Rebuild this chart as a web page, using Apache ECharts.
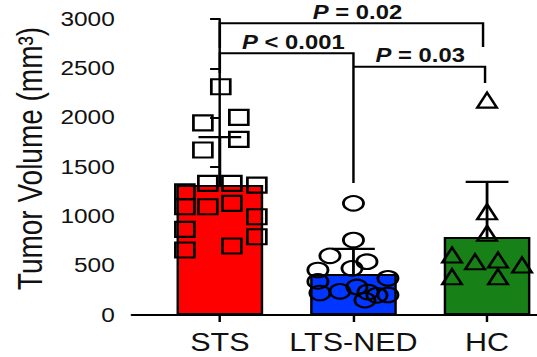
<!DOCTYPE html>
<html><head><meta charset="utf-8">
<script src="https://cdn.jsdelivr.net/npm/echarts@6/dist/echarts.min.js"></script>
<style>
html,body{margin:0;padding:0;background:#fff;overflow:hidden;width:537px;height:357px;}
#wrap{width:537px;height:357px;overflow:hidden;}
#chart{width:440px;height:357px;transform:scaleX(1.2205);transform-origin:0 0;}
</style></head><body><div id="wrap"><div id="chart"></div></div>
<script>
// ---- data ----
const categories = ['STS', 'LTS-NED', 'HC'];
const barColors = ['#FF0000', '#0036FF', '#178017'];
const barMeans = [1317, 415, 790];
const barSD = [485, 255, 560];
const stsValues = [2313, 1948, 2003, 1780, 1672, 1334, 1334, 1317, 1249, 1097, 1097, 1132, 996, 868, 793, 659, 699];
const stsJitter = [0.007, -0.127, 0.142, 0.142, -0.127, -0.09, 0.09, 0.277, -0.262, -0.262, -0.09, 0.09, 0.277, -0.262, 0.277, -0.262, 0.09];
const ltsValues = [1132, 760, 600, 540, 456, 473, 372, 340, 240, 284, 233, 203, 150, 223, 200];
const ltsJitter = [0, 0, -0.176, 0.101, -0.266, -0.011, 0.258, -0.266, -0.101, 0.026, 0.109, 0.258, 0.086, -0.251, 0.176];
const hcValues = [2178, 1047, 828, 608, 540, 557, 507, 388, 388];
const hcJitter = [0, 0, 0, -0.262, -0.09, 0.082, 0.262, -0.262, 0.082];
const yMin = 0, yMax = 3000, yStep = 500;
const yTitle = 'Tumor Volume (mm\u00B3)';
// significance annotations: groups compared, bracket height and leg ends (data units)
const pTexts = ['{i|P} = 0.02', '{i|P} < 0.001', '{i|P} = 0.03'];
const pFrom = [0, 0, 1];
const pTo = [1.97, 1, 1.985];
const pLevel = [2956, 2652, 2517];
const pLeftEnd = [2706, 2453, 2517];
const pRightEnd = [2716, 1338, 2351];
const pTextX = [1.03, 0.55, 1.5];

const font = 'Liberation Sans, Arial, Helvetica, sans-serif';

function pts(vals, jit, cat) { return vals.map((v, i) => [cat + jit[i], v]); }

const chart = echarts.init(document.getElementById('chart'), null, { renderer: 'svg' });
chart.setOption({
  animation: false,
  backgroundColor: '#fff',
  grid: { left: 108, right: 0, top: 19, bottom: 42, outerBoundsMode: 'none', containLabel: false },
  xAxis: {
    type: 'value', min: -0.659, max: 2.374,
    axisLine: { show: true, lineStyle: { color: '#000', width: 2 } },
    axisTick: { show: true, customValues: [0, 1, 2], length: 7, lineStyle: { color: '#000', width: 2 } },
    axisLabel: { customValues: [0, 1, 2], formatter: v => categories[Math.round(v)], fontSize: 25, lineHeight: 25, fontFamily: font, color: '#111', margin: 15 },
    splitLine: { show: false }
  },
  yAxis: {
    type: 'value', min: yMin, max: yMax, interval: yStep,
    name: yTitle, nameLocation: 'middle', nameGap: 68,
    nameTextStyle: { fontSize: 28, fontFamily: font, color: '#111', padding: [0, 0, 0, 17] },
    axisLine: { show: true, lineStyle: { color: '#000', width: 2 } },
    axisTick: { show: true, inside: false, length: 8, lineStyle: { color: '#000', width: 2 } },
    axisLabel: { fontSize: 20, fontFamily: font, color: '#111', margin: 14, formatter: v => String(v) },
    splitLine: { show: false }
  },
  series: [
    {
      type: 'bar', barWidth: 71,
      data: barMeans.map((v, i) => ({ value: [i, v], itemStyle: { color: barColors[i] } })),
      itemStyle: { borderColor: '#000', borderWidth: 2 }
    },
    {
      type: 'scatter', symbol: 'rect', symbolSize: [15.5, 15],
      data: pts(stsValues, stsJitter, 0),
      itemStyle: { color: 'rgba(0,0,0,0)', borderColor: '#000', borderWidth: 2.2, opacity: 1 }
    },
    {
      type: 'scatter', symbol: 'circle', symbolSize: [16.5, 14.5],
      data: pts(ltsValues, ltsJitter, 1),
      itemStyle: { color: 'rgba(0,0,0,0)', borderColor: '#000', borderWidth: 2.2, opacity: 1 }
    },
    {
      type: 'scatter', symbol: 'triangle', symbolSize: [16, 15],
      data: pts(hcValues, hcJitter, 2),
      itemStyle: { color: 'rgba(0,0,0,0)', borderColor: '#000', borderWidth: 2.2, opacity: 1 }
    },
    {
      type: 'custom', clip: false,
      data: barMeans.map((m, i) => [i, m, barSD[i]]),
      renderItem: function (params, api) {
        const x = api.value(0), m = api.value(1), sd = api.value(2);
        const top = api.coord([x, m + sd]);
        const bot = api.coord([x, m - sd]);
        const half = api.size([0.16, 0])[0];
        const st = { stroke: '#000', lineWidth: 2.3 };
        return {
          type: 'group', children: [
            { type: 'line', shape: { x1: top[0], y1: top[1], x2: bot[0], y2: bot[1] }, style: st },
            { type: 'line', shape: { x1: top[0] - half, y1: top[1], x2: top[0] + half, y2: top[1] }, style: st },
            { type: 'line', shape: { x1: bot[0] - half, y1: bot[1], x2: bot[0] + half, y2: bot[1] }, style: st }
          ]
        };
      }
    },
    {
      type: 'custom', clip: false,
      data: pTexts.map((t, i) => [pFrom[i], pLevel[i]]),
      renderItem: function (params, api) {
        const i = params.dataIndex;
        const a = api.coord([pFrom[i], pLeftEnd[i]]);
        const b = api.coord([pFrom[i], pLevel[i]]);
        const c = api.coord([pTo[i], pLevel[i]]);
        const d = api.coord([pTo[i], pRightEnd[i]]);
        const t = api.coord([pTextX[i], pLevel[i]]);
        return {
          type: 'group', children: [
            { type: 'polyline', shape: { points: [a, b, c, d] }, style: { stroke: '#000', lineWidth: 2, fill: null } },
            {
              type: 'text', x: t[0], y: t[1] - 1,
              style: {
                text: pTexts[i], fontSize: 19.5, fontWeight: 'bold', fontFamily: font, fill: '#111',
                align: 'center', verticalAlign: 'bottom',
                rich: { i: { fontStyle: 'italic', fontWeight: 'bold', fontSize: 19.5, fontFamily: font, fill: '#111' } }
              }
            }
          ]
        };
      }
    }
  ]
});
</script></body></html>
